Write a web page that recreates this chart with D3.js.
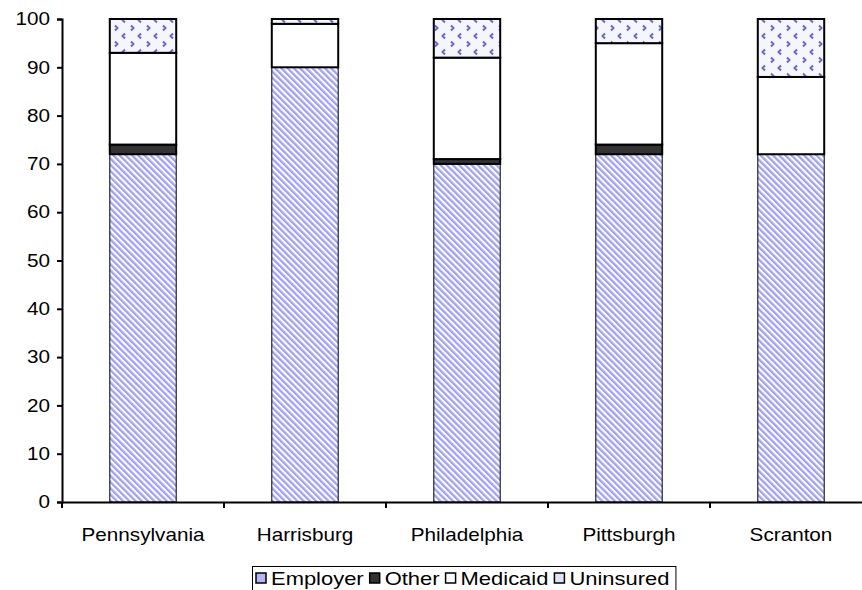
<!DOCTYPE html>
<html>
<head>
<meta charset="utf-8">
<script src="https://cdn.jsdelivr.net/npm/d3@7"></script>
<style>
  html, body { margin: 0; padding: 0; background: #fff; }
  svg { display: block; font-family: "Liberation Sans", Arial, sans-serif; }
</style>
</head>
<body>
<svg id="chart" width="862" height="590"></svg>
<script>
// Health coverage share (%) by area
const categories = ["Pennsylvania", "Harrisburg", "Philadelphia", "Pittsburgh", "Scranton"];
const seriesNames = ["Employer", "Other", "Medicaid", "Uninsured"];
const employer  = [72, 90, 70, 72, 72];
const other     = [2, 0, 1, 2, 0];
const medicaid  = [19, 9, 21, 21, 16];
const uninsured = [7, 1, 8, 5, 12];
const yTicks = [0, 10, 20, 30, 40, 50, 60, 70, 80, 90, 100];

const svg = d3.select("#chart");
const margin = { left: 62, top: 19, bottom: 502 };
const bandW = 162;
const fontSize = 18;
const stretch = 1.15;       // wide lettering on the axes
const legendStretch = 1.22; // legend lettering

const x = d3.scaleBand()
  .domain(categories)
  .range([margin.left, margin.left + bandW * categories.length])
  .paddingInner(0.59).paddingOuter(0.295);
const y = d3.scaleLinear().domain([0, 100]).range([margin.bottom, margin.top]);

// fill patterns
const defs = svg.append("defs");
const stripe = defs.append("pattern")
  .attr("id", "pat-employer").attr("patternUnits", "userSpaceOnUse")
  .attr("width", 4.4).attr("height", 4.4)
  .attr("patternTransform", "rotate(-45)");
stripe.append("rect").attr("width", 4.4).attr("height", 4.4).attr("fill", "#ffffff");
stripe.append("rect").attr("width", 2.3).attr("height", 4.4).attr("fill", "#a0a0f8");

const chev = defs.append("pattern")
  .attr("id", "pat-uninsured").attr("patternUnits", "userSpaceOnUse")
  .attr("width", 16).attr("height", 16);
chev.append("rect").attr("width", 16).attr("height", 16).attr("fill", "#f5f5fc");
chev.append("path").attr("d", "M13,1.5 L10.5,4 L13,6.5").attr("fill", "none")
  .attr("stroke", "#6a6ac8").attr("stroke-width", 2);
chev.append("path").attr("d", "M3,9.5 L5.5,12 L3,14.5").attr("fill", "none")
  .attr("stroke", "#6a6ac8").attr("stroke-width", 2);

const fills = {
  Employer: "url(#pat-employer)",
  Other: "#333333",
  Medicaid: "#ffffff",
  Uninsured: "url(#pat-uninsured)"
};
const swatchFills = { Employer: "#b4b4f8", Other: "#333333", Medicaid: "#ffffff", Uninsured: "#e2e2f8" };
const strokeW = { Employer: 1, Other: 2, Medicaid: 2, Uninsured: 2 };

const table = categories.map((c, i) => ({
  cat: c, Employer: employer[i], Other: other[i], Medicaid: medicaid[i], Uninsured: uninsured[i]
}));
const stacked = d3.stack().keys(seriesNames)(table);

svg.append("g").selectAll("g")
  .data(stacked).join("g")
  .each(function (layer) {
    d3.select(this).selectAll("rect")
      .data(layer.filter(d => d[1] - d[0] > 0)).join("rect")
      .attr("x", d => x(d.data.cat))
      .attr("width", x.bandwidth())
      .attr("y", d => y(d[1]))
      .attr("height", d => y(d[0]) - y(d[1]))
      .attr("fill", fills[layer.key])
      .attr("stroke", "#000")
      .attr("stroke-width", strokeW[layer.key]);
  });

// y axis
const yAxis = d3.axisLeft(y).tickValues(yTicks).tickSize(5).tickPadding(7);
const gy = svg.append("g").attr("transform", `translate(${margin.left},0)`).call(yAxis);
gy.select(".domain").attr("stroke-width", 2);
gy.selectAll(".tick line").attr("stroke-width", 2);
gy.selectAll("text").attr("font-size", fontSize).attr("fill", "#000")
  .attr("font-family", "Liberation Sans, Arial, sans-serif")
  .attr("x", -12 / stretch)
  .attr("transform", `scale(${stretch},1)`);

// x axis with ticks between categories
const xAxis = d3.axisBottom(x).tickSize(0).tickPadding(26);
const gx = svg.append("g").attr("transform", `translate(0,${margin.bottom})`).call(xAxis);
gx.select(".domain").attr("stroke-width", 2);
gx.selectAll("text").attr("font-size", fontSize).attr("fill", "#000")
  .attr("font-family", "Liberation Sans, Arial, sans-serif")
  .attr("transform", `scale(${stretch},1)`);
const sep = d3.range(0, categories.length + 1).map(i => margin.left + i * bandW);
gx.selectAll("line.sep").data(sep).join("line").attr("class", "sep")
  .attr("x1", d => d).attr("x2", d => d).attr("y1", 0).attr("y2", 6)
  .attr("stroke", "#000").attr("stroke-width", 2);

// legend
const leg = svg.append("g").attr("font-size", fontSize);
let lx = 256;
seriesNames.forEach(name => {
  const g = leg.append("g");
  g.append("rect").attr("x", lx).attr("y", 573).attr("width", 10).attr("height", 10)
    .attr("fill", swatchFills[name])
    .attr("stroke", "#000").attr("stroke-width", 1.5);
  const tx = lx + 15;
  const t = g.append("text").attr("x", tx / legendStretch).attr("y", 585).text(name).attr("fill", "#000")
    .attr("transform", `scale(${legendStretch},1)`);
  lx = tx + t.node().getComputedTextLength() * legendStretch + 6;
});
leg.insert("rect", ":first-child").attr("x", 252.5).attr("y", 566.5)
  .attr("width", lx - 252).attr("height", 30)
  .attr("fill", "#fff").attr("stroke", "#000").attr("stroke-width", 1);
</script>
</body>
</html>
